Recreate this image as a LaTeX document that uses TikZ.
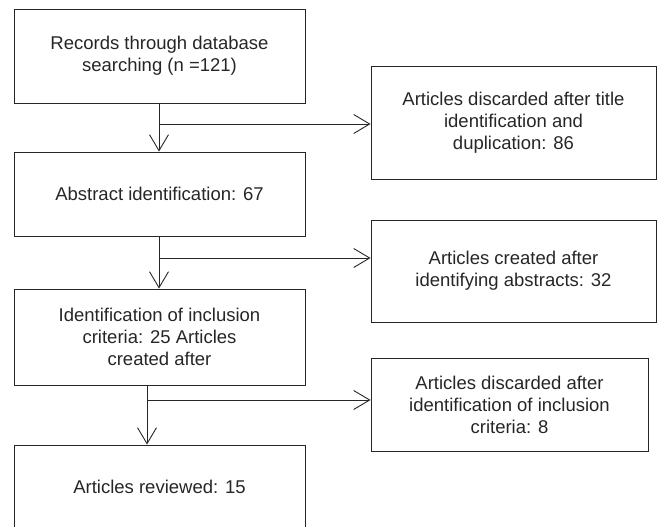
\documentclass[tikz,border=0pt]{standalone}
\usepackage{fontspec}
\setmainfont{Liberation Sans}
\usetikzlibrary{arrows.meta}

\tikzset{
  flowbox/.style={draw=black!85, line width=0.9pt, align=center, inner sep=0pt,
    text=black!85, font=\fontsize{18.5}{22}\selectfont},
  arr/.style={draw=black!85, line width=0.9pt, -{Straight Barb[length=16pt,width=19pt]}},
  plain/.style={draw=black!85, line width=0.9pt}
}

\begin{document}
\begin{tikzpicture}[x=1pt, y=-1pt]
  \useasboundingbox (0,0) rectangle (659,527);
  % main column
  \node[flowbox, minimum width=291pt, minimum height=94pt] (rec) at (159.5,56)
    {Records through database\\searching (n =121)};
  \node[flowbox, minimum width=291pt, minimum height=84pt] (abs) at (159.5,194)
    {Abstract identification: 67};
  \node[flowbox, minimum width=291pt, minimum height=96pt] (inc) at (159.5,337)
    {Identification of inclusion\\criteria: 25 Articles\\created after};
  \node[flowbox, minimum width=291pt, minimum height=84pt] (rev) at (159.5,487)
    {Articles reviewed: 15};
  % side boxes
  \node[flowbox, minimum width=285pt, minimum height=113pt] (dup) at (513.5,122.5)
    {Articles discarded after title\\identification and\\duplication: 86};
  \node[flowbox, minimum width=285pt, minimum height=102pt] (idab) at (513.5,271)
    {Articles created after\\identifying abstracts: 32};
  \node[flowbox, minimum width=277pt, minimum height=93pt] (disc) at (509.5,404.5)
    {Articles discarded after\\identification of inclusion\\criteria: 8};
  % branch points
  \coordinate (j1) at (159,124);
  \coordinate (j2) at (159,258);
  \coordinate (j3) at (147,400);
  % connectors
  \draw[arr] (rec.south -| j1) -- (abs.north -| j1);
  \draw[arr] (j1) -- (j1 -| dup.west);
  \draw[arr] (abs.south -| j2) -- (inc.north -| j2);
  \draw[arr] (j2) -- (j2 -| idab.west);
  \draw[arr] (inc.south -| j3) -- (rev.north -| j3);
  \draw[arr] (j3) -- (j3 -| disc.west);
\end{tikzpicture}
\end{document}
